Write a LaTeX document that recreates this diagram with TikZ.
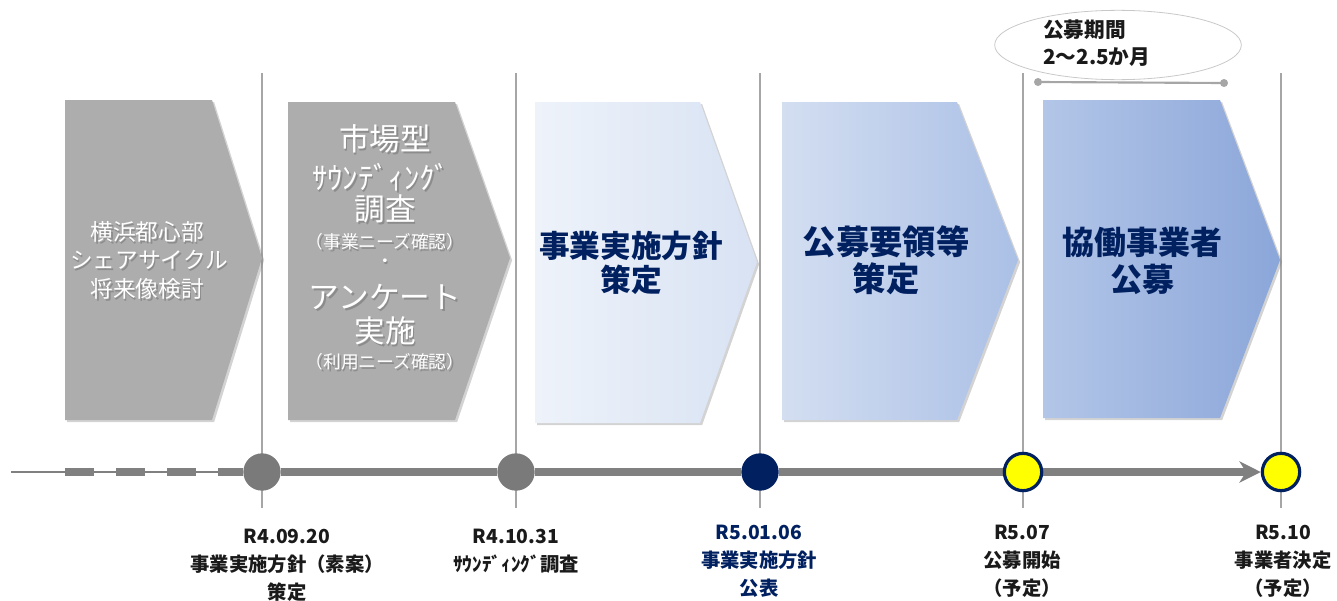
\documentclass[tikz,border=0pt]{standalone}
\usepackage{fontspec}
\setmainfont{Noto Sans CJK JP}
\usetikzlibrary{shadows,arrows.meta,shapes.geometric,backgrounds}
\definecolor{navy}{HTML}{002060}
\definecolor{vl}{HTML}{A6A6A6}
\definecolor{chg}{HTML}{ADADAD}
\definecolor{shd}{HTML}{8C8C8C}
\definecolor{tlc}{HTML}{808080}
\definecolor{cgr}{HTML}{7A7A7A}
\definecolor{yel}{HTML}{FFFF00}
\definecolor{elc}{HTML}{C8C8C8}
\definecolor{lab}{HTML}{1A1A1A}
\definecolor{b3l}{HTML}{EEF3FA}
\definecolor{b3r}{HTML}{D8E2F3}
\definecolor{b4l}{HTML}{D3DEF1}
\definecolor{b4r}{HTML}{ABC0E6}
\definecolor{b5l}{HTML}{B3C6E8}
\definecolor{b5r}{HTML}{8BA6D9}
\newcommand\wsh[1]{\makebox[0pt][l]{\raisebox{-1.3pt}{\kern1.3pt\textcolor{shd}{#1}}}#1}
\begin{document}
\begin{tikzpicture}[x=0.75pt,y=-0.75pt,
  vline/.style={draw=vl, line width=0.8pt},
  chev/.style={drop shadow={shadow xshift=1.6pt,shadow yshift=-1.6pt,opacity=0.35}},
  wbig/.style={text=white, inner sep=0pt, font=\fontsize{23pt}{26pt}\selectfont},
  wsmall/.style={text=white, inner sep=0pt, font=\fontsize{13.3pt}{16pt}\selectfont},
  wmid/.style={text=white, inner sep=0pt, align=center, font=\fontsize{17pt}{22pt}\selectfont},
  ntext/.style={text=navy, inner sep=0pt, align=center, font=\bfseries\fontsize{23pt}{26pt}\selectfont},
  tl/.style={draw=tlc, line width=5.5pt},
  dot/.style={circle, inner sep=0pt, minimum size=28pt},
  lbl/.style={anchor=north, inner sep=0pt, align=center, text=lab, font=\bfseries\fontsize{14.5pt}{21pt}\selectfont}
]
\useasboundingbox (0,0) rectangle (1337,600);
% positions
\coordinate (p1) at (262,472);
\coordinate (p2) at (516,472);
\coordinate (p3) at (760,472);
\coordinate (p4) at (1023,472);
\coordinate (p5) at (1281,472);
% vertical guide lines
\foreach \p in {p1,p2,p3,p4,p5}{
  \draw[vline] (\p |- 0,73) -- (\p |- 0,508);
}
% chevrons
\path[chev, fill=chg] (65,100) -- (212,100) -- (262,258) -- (212,420) -- (65,420) -- cycle;
\path[chev, fill=chg] (288,102) -- (455,102) -- (510,258) -- (455,420) -- (288,420) -- cycle;
\path[chev, left color=b3l, right color=b3r] (535,102) -- (700,102) -- (757,262) -- (700,423) -- (535,423) -- cycle;
\path[chev, left color=b4l, right color=b4r] (782,102) -- (957,102) -- (1018,260) -- (957,420) -- (782,420) -- cycle;
\path[chev, left color=b5l, right color=b5r] (1043,100) -- (1220,100) -- (1280,260) -- (1220,418) -- (1043,418) -- cycle;
% chevron 1 text
\node[wmid] (a1) at (147,233) {\wsh{横浜都心部}};
\node[wmid] (a2) at (149,261) {\wsh{シェアサイクル}};
\node[wmid] (a3) at (147,290) {\wsh{将来像検討}};
% chevron 2 text
\node[wbig] (m1) at (385,140) {\wsh{市場型}};
\node[wbig] (m2) at (381,178) {\wsh{ｻｳﾝﾃﾞｨﾝｸﾞ}};
\node[wbig] (m3) at (385,210) {\wsh{調査}};
\node[wsmall] (m4) at (385,243) {\wsh{（事業ニーズ確認）}};
\node[wsmall] (m5) at (385,264) {\wsh{・}};
\node[wbig] (m6) at (385,298) {\wsh{アンケート}};
\node[wbig] (m7) at (385,332) {\wsh{実施}};
\node[wsmall] (m8) at (385,363) {\wsh{（利用ニーズ確認）}};
% chevron 3-5 text
\node[ntext] (n3) at (631,263) {事業実施方針\\策定};
\node[ntext, font=\bfseries\fontsize{25pt}{27.5pt}\selectfont] (n4) at (886,260) {公募要領等\\策定};
\node[ntext, font=\bfseries\fontsize{24pt}{28pt}\selectfont] (n5) at (1142,261) {協働事業者\\公募};
% timeline dots
\coordinate (t0) at (11,472);
\coordinate (d0) at (65,472);
\node[dot, fill=cgr] (c1) at (p1) {};
\node[dot, fill=cgr] (c2) at (p2) {};
\node[dot, fill=navy] (c3) at (p3) {};
\node[dot, fill=yel, draw=navy, line width=2.4pt] (c4) at (p4) {};
\node[dot, fill=yel, draw=navy, line width=2.4pt] (c5) at (p5) {};
% timeline connectors (behind dots)
\begin{scope}[on background layer]
\draw[draw=tlc, line width=0.8pt] (t0) -- (c1);
\draw[tl, dash pattern=on 21.75pt off 16.5pt] (d0) -- (c1.west);
\draw[tl] (c1) -- (c2);
\draw[tl] (c2) -- (c3);
\draw[tl] (c3) -- (c4);
\draw[tl, -{Stealth[length=16pt,width=16pt,inset=5pt]}] (c4) -- (c5);
\end{scope}
% labels
\node[lbl] (l1) at (287,529) {R4.09.20\\事業実施方針（素案）\\策定};
\node[lbl] (l2) at (516,529) {R4.10.31\\ｻｳﾝﾃﾞｨﾝｸﾞ調査};
\node[lbl, text=navy] (l3) at (759,525) {R5.01.06\\事業実施方針\\公表};
\node[lbl] (l4) at (1022,525) {R5.07\\公募開始\\（予定）};
\node[lbl] (l5) at (1283,525) {R5.10\\事業者決定\\（予定）};
% period
\node[ellipse, draw=elc, line width=0.6pt, minimum width=185pt, minimum height=52pt, inner sep=0pt] (pe) at (1118,45) {};
\node[anchor=west, align=left, inner sep=0pt, text=lab, font=\bfseries\fontsize{15.5pt}{20pt}\selectfont] (pt) at (1043,43) {公募期間\\2～2.5か月};
\coordinate (b1) at (1038,82);
\coordinate (b2) at (1224,83);
\draw[draw=vl, line width=1.6pt] (b1) -- (b2);
\fill[vl] (b1) circle (3pt);
\fill[vl] (b2) circle (3pt);
\end{tikzpicture}
\end{document}
